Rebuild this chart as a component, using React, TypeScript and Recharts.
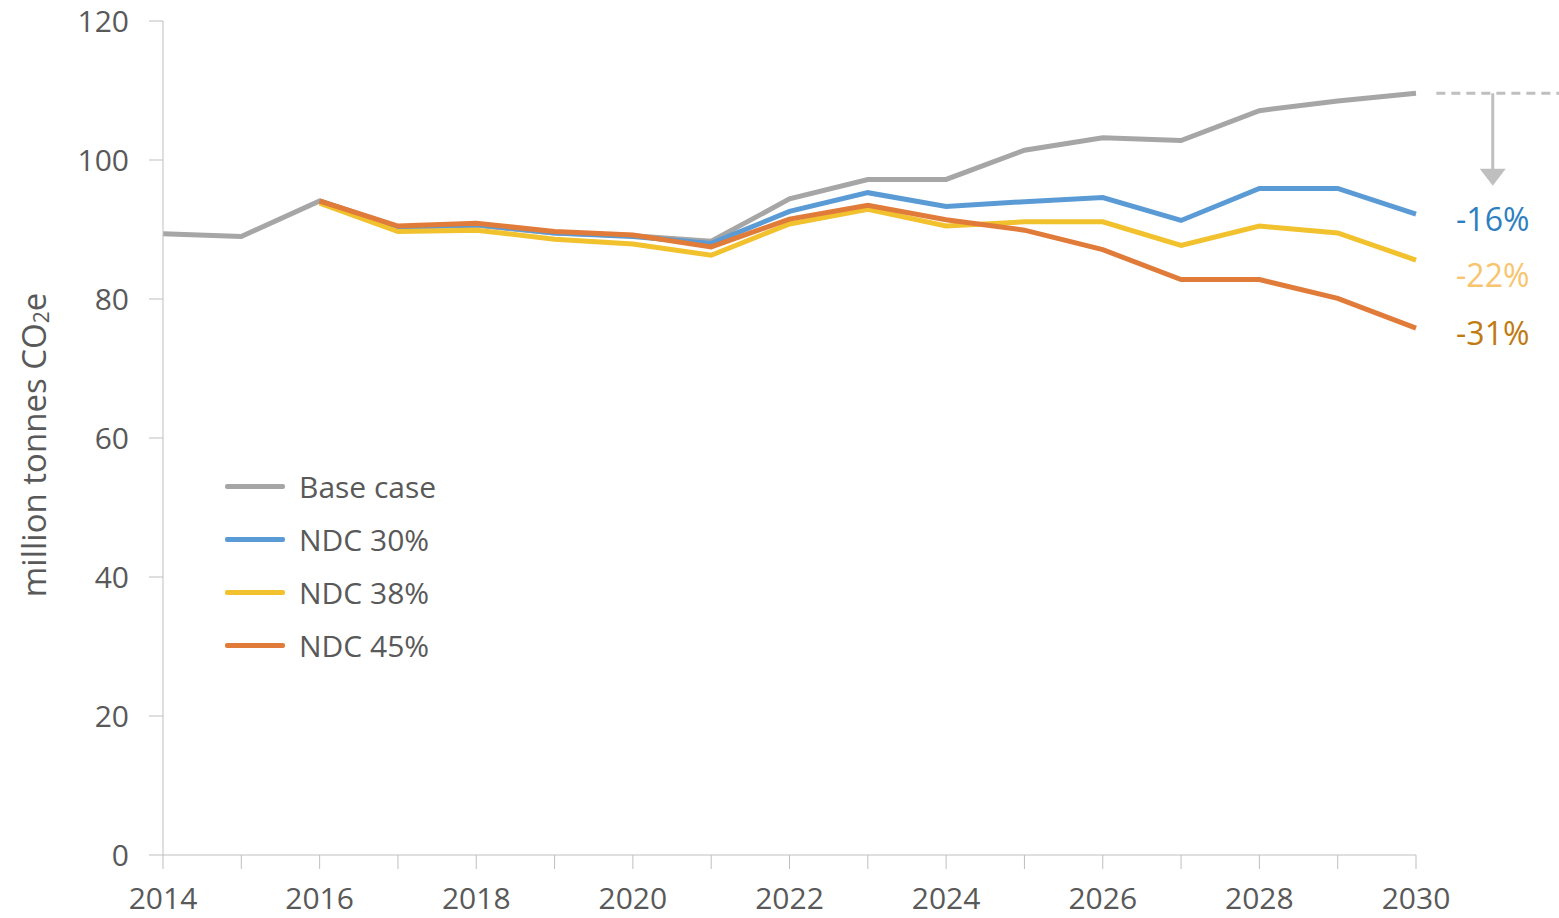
import React from 'react';
import {
  LineChart,
  Line,
  XAxis,
  YAxis,
  Legend,
  ReferenceLine,
  ReferenceDot,
  Label,
} from 'recharts';

const years = [2014, 2015, 2016, 2017, 2018, 2019, 2020, 2021, 2022, 2023, 2024, 2025, 2026, 2027, 2028, 2029, 2030];
const baseCase = [89.4, 89.0, 94.1, 90.3, 90.6, 89.5, 89.1, 88.3, 94.4, 97.2, 97.2, 101.4, 103.2, 102.8, 107.1, 108.5, 109.6];
const ndc30 = [null, null, 94.1, 90.4, 90.7, 89.5, 89.0, 88.0, 92.6, 95.3, 93.3, 94.0, 94.6, 91.3, 95.9, 95.9, 92.2];
const ndc38 = [null, null, 93.8, 89.7, 89.9, 88.6, 87.9, 86.3, 90.8, 92.9, 90.5, 91.1, 91.1, 87.7, 90.5, 89.5, 85.6];
const ndc45 = [null, null, 94.1, 90.5, 90.9, 89.7, 89.2, 87.5, 91.5, 93.5, 91.4, 89.9, 87.1, 82.8, 82.8, 80.1, 75.8];
const yTicks = [0, 20, 40, 60, 80, 100, 120];

const seriesNames = ['Base case', 'NDC 30%', 'NDC 38%', 'NDC 45%'];
const seriesKeys = ['base', 'ndc30', 'ndc38', 'ndc45'];
const seriesColors = ['#a6a6a6', '#5b9bd5', '#f2c12e', '#e07b39'];

// reduction labels shown to the right of 2030
const reductionLabels = ['-16%', '-22%', '-31%'];
const reductionValues = [91.4, 83.4, 75.0];
const reductionColors = ['#2e7fc0', '#f9c46e', '#bf7a12'];

const data = years.map((year, i) => ({
  year,
  base: baseCase[i],
  ndc30: ndc30[i],
  ndc38: ndc38[i],
  ndc45: ndc45[i],
}));

const FONT = '"Open Sans", sans-serif';
const TEXT = '#595959';
const AXIS = '#bfbfbf';
const ARROW_X = 2030.98;

const renderLegend = () => (
  <div style={{ fontFamily: FONT }}>
    {seriesNames.map((name, i) => (
      <div key={name} style={{ display: 'flex', alignItems: 'center', height: 53 }}>
        <div style={{ width: 60, height: 5, background: seriesColors[i], borderRadius: 2 }} />
        <span style={{ marginLeft: 14, fontSize: 30, color: TEXT }}>{name}</span>
      </div>
    ))}
  </div>
);

const renderYLabel = (props: any) => {
  const vb = props.viewBox;
  const x = vb.x + 33;
  const y = vb.y + vb.height / 2 + 7;
  return (
    <text
      x={x}
      y={y}
      transform={`rotate(-90, ${x}, ${y})`}
      textAnchor="middle"
      dominantBaseline="central"
      fill={TEXT}
      fontSize={33}
      fontFamily={FONT}
    >
      million tonnes CO
      <tspan dy={8} fontSize={21}>2</tspan>
      <tspan dy={-8}>e</tspan>
    </text>
  );
};

const arrowHead = (props: any) => {
  const { cx, cy } = props;
  return <path d={`M${cx - 13},${cy - 17} L${cx + 13},${cy - 17} L${cx},${cy} Z`} fill="#bfbfbf" />;
};

export default function App() {
  const base2030 = baseCase[baseCase.length - 1];
  return (
    <div style={{ position: 'absolute', left: 0, top: 0, background: '#fff' }}>
      <LineChart
        width={1559}
        height={918}
        data={data}
        margin={{ top: 21, right: 143, left: 0, bottom: 0 }}
      >
        <XAxis
          dataKey="year"
          type="number"
          domain={[2014, 2030]}
          ticks={years}
          tickFormatter={(v) => (v % 2 === 0 ? String(v) : '')}
          height={63}
          stroke={AXIS}
          tickSize={14}
          tickMargin={19}
          tick={{ fill: TEXT, fontSize: 30, fontFamily: FONT }}
          interval={0}
        />
        <YAxis
          domain={[0, 120]}
          ticks={yTicks}
          width={163}
          stroke={AXIS}
          tickSize={14}
          tickMargin={20}
          tick={{ fill: TEXT, fontSize: 30, fontFamily: FONT }}
        >
          <Label content={renderYLabel} />
        </YAxis>
        <Legend
          layout="vertical"
          align="center"
          verticalAlign="middle"
          content={renderLegend}
          wrapperStyle={{ left: 225, top: 460, width: 'auto' }}
        />
        {seriesKeys.map((key, i) => (
          <Line
            key={key}
            type="linear"
            dataKey={key}
            name={seriesNames[i]}
            stroke={seriesColors[i]}
            strokeWidth={5}
            dot={false}
            connectNulls={false}
            isAnimationActive={false}
          />
        ))}
        <ReferenceLine
          segment={[{ x: 2030.26, y: base2030 }, { x: 2031.83, y: base2030 }]}
          stroke="#bfbfbf"
          strokeWidth={3}
          strokeDasharray="9 6"
          ifOverflow="visible"
        />
        <ReferenceLine
          segment={[{ x: ARROW_X, y: base2030 }, { x: ARROW_X, y: 98.4 }]}
          stroke="#bfbfbf"
          strokeWidth={3}
          ifOverflow="visible"
        />
        <ReferenceDot x={ARROW_X} y={96.3} ifOverflow="visible" shape={arrowHead} />
        {reductionLabels.map((text, i) => (
          <ReferenceDot
            key={text}
            x={ARROW_X}
            y={reductionValues[i]}
            r={0}
            stroke="none"
            fill="none"
            ifOverflow="visible"
            label={{ value: text, position: 'center', fill: reductionColors[i], fontSize: 32, fontFamily: FONT }}
          />
        ))}
      </LineChart>
    </div>
  );
}
